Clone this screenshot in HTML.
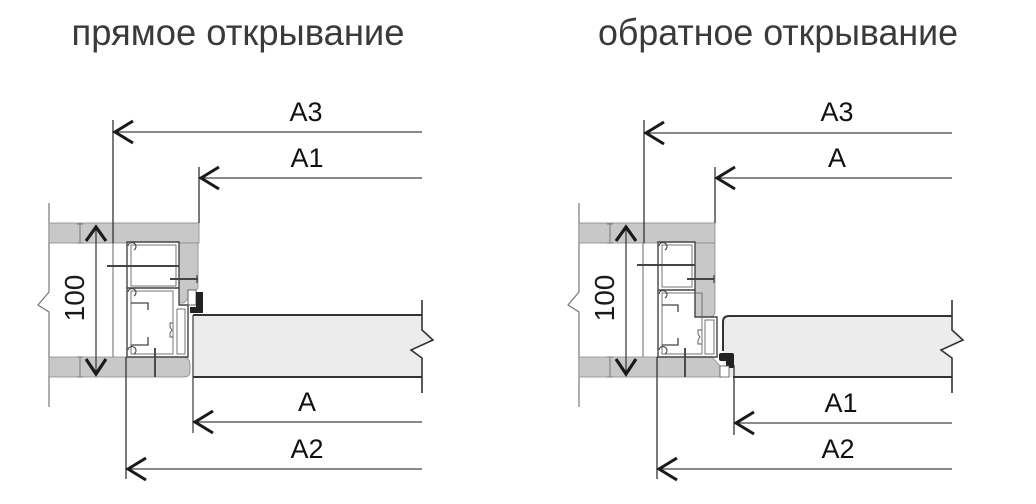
<!DOCTYPE html>
<html><head><meta charset="utf-8"><style>
html,body{margin:0;padding:0;background:#fff;}
svg{display:block;}
text{font-family:"Liberation Sans","DejaVu Sans",sans-serif;}
</style></head><body>
<svg width="1036" height="504" viewBox="0 0 1036 504" xmlns="http://www.w3.org/2000/svg">
<rect width="1036" height="504" fill="#fff"/>
<text x="238" y="45" font-size="37" fill="#3a3a3a" text-anchor="middle" textLength="333" lengthAdjust="spacingAndGlyphs">прямое открывание</text>
<text x="778" y="45" font-size="37" fill="#3a3a3a" text-anchor="middle" textLength="360" lengthAdjust="spacingAndGlyphs">обратное открывание</text>

<!-- ===== LEFT DIAGRAM ===== -->
<g>
  <path d="M49 203 V292 L38 305 L49 312 V407" fill="none" stroke="#777" stroke-width="1.2"/>
  <rect x="49" y="223" width="150" height="20" fill="#c8c8c8" stroke="#888" stroke-width="0.8"/>
  <path d="M179 243 H198 V288 L184 303 H179 Z" fill="#c8c8c8" stroke="#888" stroke-width="0.8"/>
  <path d="M49 357 H182 Q190 357 190 365 V371 Q190 377 184 377 H49 Z" fill="#c8c8c8" stroke="#888" stroke-width="0.8"/>
  <line x1="113" y1="243" x2="113" y2="357" stroke="#666" stroke-width="1"/>
  <!-- profile -->
  <path d="M127 242 H179 V305 H188 V357 H127 Z" fill="#fff" stroke="#444" stroke-width="1.4"/>
  <rect x="131" y="245" width="45" height="41" fill="none" stroke="#666" stroke-width="0.9"/>
  <line x1="127" y1="288" x2="179" y2="288" stroke="#444" stroke-width="1.4"/>
  <rect x="131" y="291" width="42" height="63" fill="none" stroke="#666" stroke-width="0.9"/>
  <rect x="177" y="309" width="8" height="45" fill="none" stroke="#666" stroke-width="0.9"/>
  <path d="M173 323 h-3 v4 l2 3 l-2 3 v4 h3" fill="none" stroke="#555" stroke-width="0.9"/>
  <polyline points="131,303 148,303 148,310" fill="none" stroke="#444" stroke-width="1.3"/>
  <polyline points="131,345 148,345 148,337" fill="none" stroke="#444" stroke-width="1.3"/>
  <path d="M128 246 a4 4 0 1 1 6 4 M128 292 a4 4 0 1 1 6 4 M128 350 a4 4 0 1 1 6 4" fill="none" stroke="#444" stroke-width="1.1"/>
  <!-- screws -->
  <line x1="107" y1="266" x2="179" y2="266" stroke="#444" stroke-width="1.9"/>
  <line x1="170" y1="279" x2="198" y2="279" stroke="#444" stroke-width="1.9"/>
  <line x1="197" y1="275" x2="197" y2="283" stroke="#444" stroke-width="1.2"/>
  <line x1="155" y1="348" x2="155" y2="377" stroke="#444" stroke-width="1.9"/>
  <!-- door panel -->
  <path d="M193 315 H422 V330 L433 340 L411 350 L422 358 V377 H193 Z" fill="#ececec"/>
  <line x1="193" y1="315" x2="422" y2="315" stroke="#333" stroke-width="2"/>
  <line x1="193" y1="377" x2="422" y2="377" stroke="#333" stroke-width="2"/>
  <line x1="193" y1="315" x2="193" y2="433" stroke="#444" stroke-width="1.3"/>
  <path d="M422 300 V330 L433 340 L411 350 L422 358 V393" fill="none" stroke="#333" stroke-width="1.6"/>
  <!-- seal -->
  <rect x="188" y="290" width="8" height="15" fill="#fff" stroke="#555" stroke-width="0.9"/>
  <rect x="196" y="292" width="7" height="20" fill="#222"/>
  <rect x="190" y="307" width="13" height="6" fill="#222"/>
  <!-- 100 dimension -->
  <line x1="96" y1="226" x2="96" y2="375" stroke="#333" stroke-width="1.2"/>
  <polyline points="86,241 96,227 106,241" fill="none" stroke="#1a1a1a" stroke-width="3.2"/>
  <polyline points="86,359 96,374 106,359" fill="none" stroke="#1a1a1a" stroke-width="3.2"/>
  <path d="M80 224 V243 M77 224 H83 M77 243 H83 M80 357 V377 M77 357 H83 M77 377 H83" stroke="#777" stroke-width="1"/>
  <text x="0" y="0" font-size="28" fill="#1a1a1a" text-anchor="middle" transform="translate(84 298) rotate(-90)">100</text>
  <!-- dimension lines -->
  <line x1="113" y1="120" x2="113" y2="243" stroke="#333" stroke-width="1.3"/>
  <line x1="114" y1="132" x2="422" y2="132" stroke="#444" stroke-width="1.3"/>
  <polyline points="133,121 115,132 133,143" fill="none" stroke="#1a1a1a" stroke-width="3"/>
  <text x="306" y="121" font-size="27" fill="#111" text-anchor="middle">A3</text>

  <line x1="199" y1="167" x2="199" y2="223" stroke="#333" stroke-width="1.3"/>
  <line x1="200" y1="178" x2="422" y2="178" stroke="#444" stroke-width="1.3"/>
  <polyline points="219,167 201,178 219,189" fill="none" stroke="#1a1a1a" stroke-width="3"/>
  <text x="307" y="167" font-size="27" fill="#111" text-anchor="middle">A1</text>

  <line x1="194" y1="422" x2="422" y2="422" stroke="#444" stroke-width="1.3"/>
  <polyline points="213,411 195,422 213,433" fill="none" stroke="#1a1a1a" stroke-width="3"/>
  <text x="307" y="411" font-size="27" fill="#111" text-anchor="middle">A</text>

  <line x1="126" y1="357" x2="126" y2="479" stroke="#333" stroke-width="1.3"/>
  <line x1="127" y1="469" x2="422" y2="469" stroke="#444" stroke-width="1.3"/>
  <polyline points="146,458 128,469 146,480" fill="none" stroke="#1a1a1a" stroke-width="3"/>
  <text x="307" y="458" font-size="27" fill="#111" text-anchor="middle">A2</text>
</g>

<!-- ===== RIGHT DIAGRAM ===== -->
<g>
  <path d="M579 203 V292 L568 305 L579 312 V407" fill="none" stroke="#777" stroke-width="1.2"/>
  <rect x="579" y="223" width="136" height="20" fill="#c8c8c8" stroke="#888" stroke-width="0.8"/>
  <path d="M695 243 H715 V311 Q715 317 709 317 H695 Z" fill="#c8c8c8" stroke="#888" stroke-width="0.8"/>
  <path d="M579 357 H712 L722 368 V377 H579 Z" fill="#c8c8c8" stroke="#888" stroke-width="0.8"/>
  <line x1="643" y1="243" x2="643" y2="357" stroke="#666" stroke-width="1"/>
  <!-- profile -->
  <path d="M658 242 H695 V317 H717 V357 H658 Z" fill="#fff" stroke="#444" stroke-width="1.4"/>
  <rect x="662" y="245" width="30" height="42" fill="none" stroke="#666" stroke-width="0.9"/>
  <line x1="658" y1="290" x2="695" y2="290" stroke="#444" stroke-width="1.4"/>
  <rect x="662" y="293" width="40" height="61" fill="none" stroke="#666" stroke-width="0.9"/>
  <rect x="705" y="320" width="9" height="34" fill="none" stroke="#666" stroke-width="0.9"/>
  <path d="M702 330 h-4 v4 l2 3 l-2 3 v4 h4" fill="none" stroke="#555" stroke-width="0.9"/>
  <polyline points="662,305 678,305 678,312" fill="none" stroke="#444" stroke-width="1.3"/>
  <polyline points="662,345 678,345 678,338" fill="none" stroke="#444" stroke-width="1.3"/>
  <path d="M659 246 a4 4 0 1 1 6 4 M659 294 a4 4 0 1 1 6 4 M659 350 a4 4 0 1 1 6 4" fill="none" stroke="#444" stroke-width="1.1"/>
  <!-- screws -->
  <line x1="637" y1="265" x2="695" y2="265" stroke="#444" stroke-width="1.9"/>
  <line x1="687" y1="279" x2="714" y2="279" stroke="#444" stroke-width="1.9"/>
  <line x1="714" y1="275" x2="714" y2="283" stroke="#444" stroke-width="1.2"/>
  <line x1="685" y1="348" x2="685" y2="377" stroke="#444" stroke-width="1.9"/>
  <!-- door panel -->
  <path d="M729 316 H952 V330 L963 340 L941 350 L952 358 V377 H729 Q723 377 723 371 V322 Q723 316 729 316 Z" fill="#ececec"/>
  <path d="M952 316 H729 Q723 316 723 322 V351" fill="none" stroke="#333" stroke-width="2"/>
  <line x1="733" y1="377" x2="952" y2="377" stroke="#333" stroke-width="2"/>
  <path d="M952 300 V330 L963 340 L941 350 L952 358 V393" fill="none" stroke="#333" stroke-width="1.6"/>
  <!-- seal -->
  <rect x="719" y="353" width="15" height="8" rx="2" fill="#222"/>
  <rect x="726" y="358" width="8" height="10" fill="#222"/>
  <rect x="720" y="366" width="9" height="11" fill="#fff" stroke="#555" stroke-width="0.8"/>
  <!-- 100 dimension -->
  <line x1="626" y1="226" x2="626" y2="375" stroke="#333" stroke-width="1.2"/>
  <polyline points="616,241 626,227 636,241" fill="none" stroke="#1a1a1a" stroke-width="3.2"/>
  <polyline points="616,359 626,374 636,359" fill="none" stroke="#1a1a1a" stroke-width="3.2"/>
  <path d="M610 224 V243 M607 224 H613 M607 243 H613 M610 357 V377 M607 357 H613 M607 377 H613" stroke="#777" stroke-width="1"/>
  <text x="0" y="0" font-size="28" fill="#1a1a1a" text-anchor="middle" transform="translate(614 298) rotate(-90)">100</text>
  <!-- dimension lines -->
  <line x1="644" y1="120" x2="644" y2="243" stroke="#333" stroke-width="1.3"/>
  <line x1="645" y1="133" x2="952" y2="133" stroke="#444" stroke-width="1.3"/>
  <polyline points="664,122 646,133 664,144" fill="none" stroke="#1a1a1a" stroke-width="3"/>
  <text x="837" y="121" font-size="27" fill="#111" text-anchor="middle">A3</text>

  <line x1="715" y1="167" x2="715" y2="223" stroke="#333" stroke-width="1.3"/>
  <line x1="716" y1="178" x2="952" y2="178" stroke="#444" stroke-width="1.3"/>
  <polyline points="735,167 717,178 735,189" fill="none" stroke="#1a1a1a" stroke-width="3"/>
  <text x="837" y="167" font-size="27" fill="#111" text-anchor="middle">A</text>

  <line x1="734" y1="365" x2="734" y2="435" stroke="#333" stroke-width="1.3"/>
  <line x1="735" y1="423" x2="952" y2="423" stroke="#444" stroke-width="1.3"/>
  <polyline points="754,412 736,423 754,434" fill="none" stroke="#1a1a1a" stroke-width="3"/>
  <text x="841" y="412" font-size="27" fill="#111" text-anchor="middle">A1</text>

  <line x1="657" y1="357" x2="657" y2="479" stroke="#333" stroke-width="1.3"/>
  <line x1="658" y1="469" x2="952" y2="469" stroke="#444" stroke-width="1.3"/>
  <polyline points="677,458 659,469 677,480" fill="none" stroke="#1a1a1a" stroke-width="3"/>
  <text x="838" y="458" font-size="27" fill="#111" text-anchor="middle">A2</text>
</g>
</svg>
</body></html>
